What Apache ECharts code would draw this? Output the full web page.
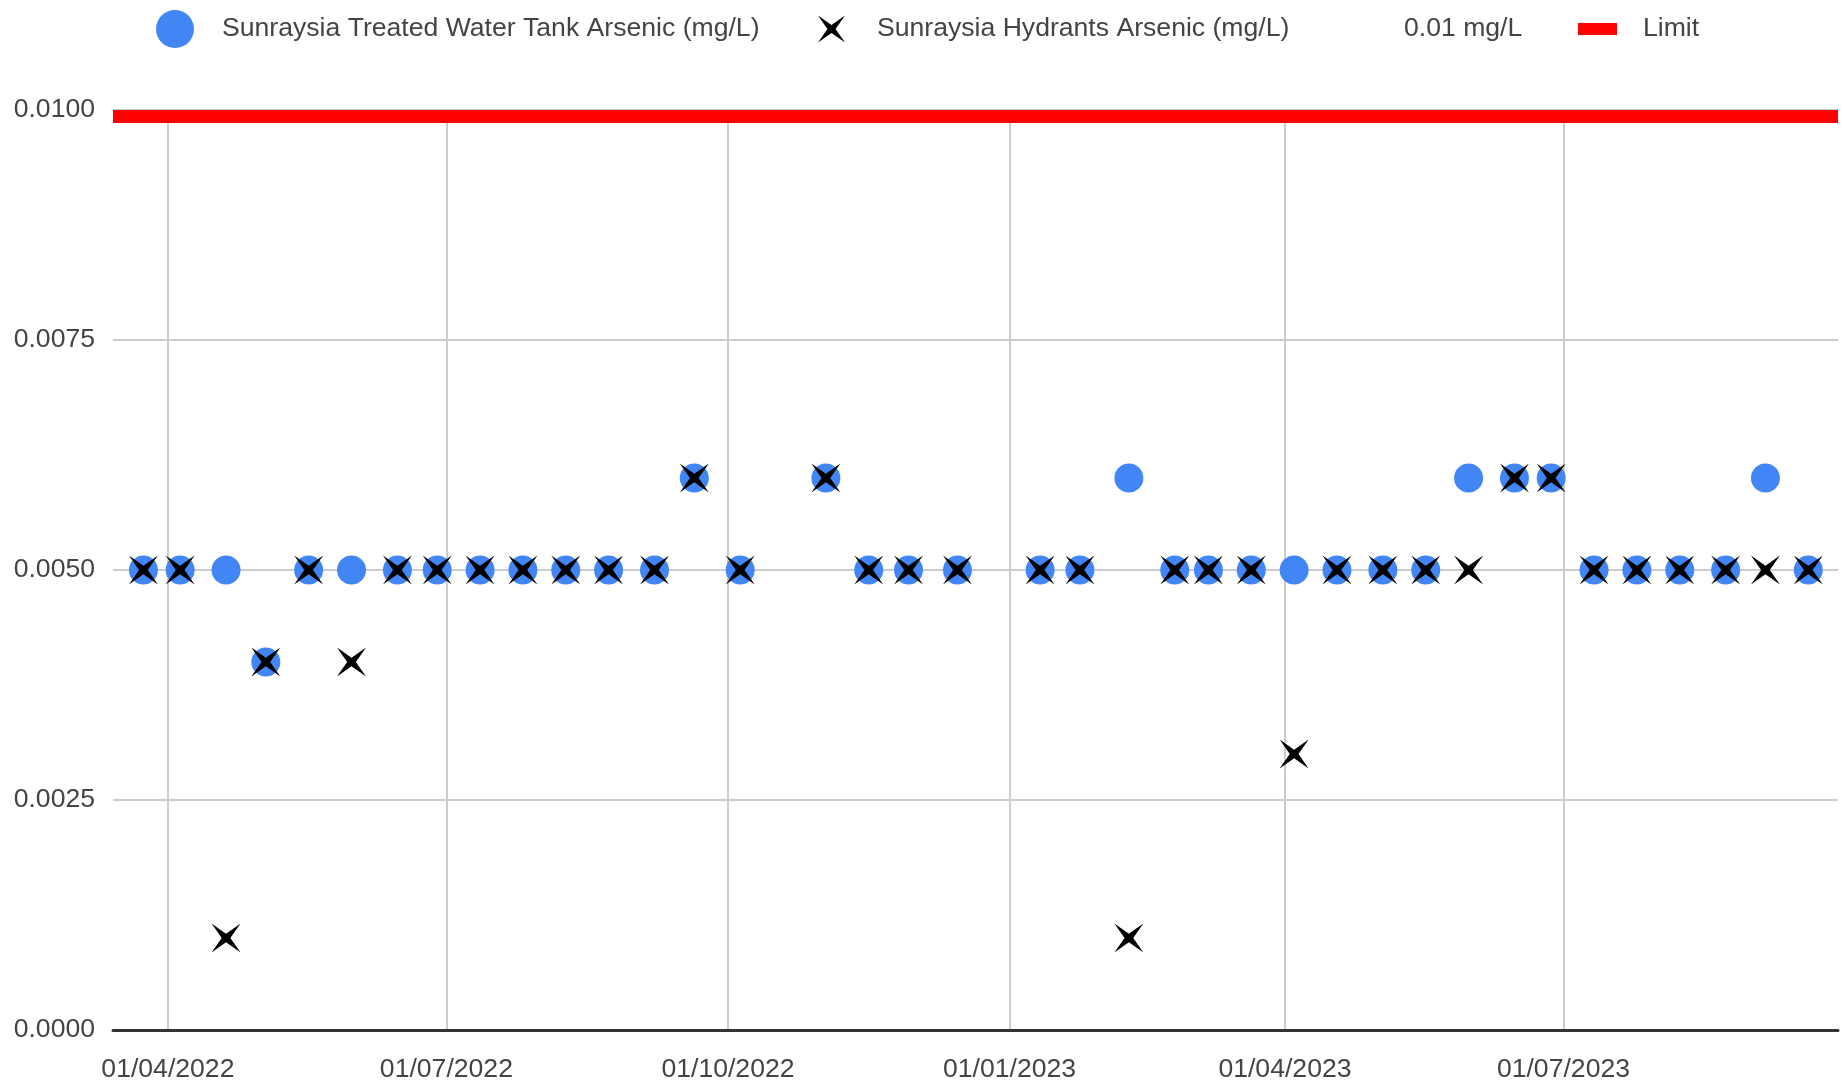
<!DOCTYPE html>
<html>
<head>
<meta charset="utf-8">
<script src="https://cdn.jsdelivr.net/npm/echarts@6/dist/echarts.min.js"></script>
<style>
html,body{margin:0;padding:0;background:#fff;}
#chart{width:1845px;height:1086px;}
</style>
</head>
<body>
<div id="chart"></div>
<script>
// ---- data ----
const sampleDates = ['2022-03-24','2022-04-05','2022-04-20','2022-05-03','2022-05-17','2022-05-31','2022-06-15','2022-06-28','2022-07-12','2022-07-26','2022-08-09','2022-08-23','2022-09-07','2022-09-20','2022-10-05','2022-11-02','2022-11-16','2022-11-29','2022-12-15','2023-01-11','2023-01-24','2023-02-09','2023-02-24','2023-03-07','2023-03-21','2023-04-04','2023-04-18','2023-05-03','2023-05-17','2023-05-31','2023-06-15','2023-06-27','2023-07-11','2023-07-25','2023-08-08','2023-08-23','2023-09-05','2023-09-19'];
const tankArsenic = [0.005,0.005,0.005,0.004,0.005,0.005,0.005,0.005,0.005,0.005,0.005,0.005,0.005,0.006,0.005,0.006,0.005,0.005,0.005,0.005,0.005,0.006,0.005,0.005,0.005,0.005,0.005,0.005,0.005,0.006,0.006,0.006,0.005,0.005,0.005,0.005,0.006,0.005];
const hydrantArsenic = [0.005,0.005,0.001,0.004,0.005,0.004,0.005,0.005,0.005,0.005,0.005,0.005,0.005,0.006,0.005,0.006,0.005,0.005,0.005,0.005,0.005,0.001,0.005,0.005,0.005,0.003,0.005,0.005,0.005,0.005,0.006,0.006,0.005,0.005,0.005,0.005,0.005,0.005];
const xTickDates = ['2022-04-01','2022-07-01','2022-10-01','2023-01-01','2023-04-01','2023-07-01'];
const xMinDate = '2022-03-14T01:30:00';
const xMaxDate = '2023-09-28T17:00:00';
const limitValue = 0.01;
const yMin = 0, yMax = 0.01, yStep = 0.0025;
const seriesNames = ['Sunraysia Treated Water Tank Arsenic (mg/L)','Sunraysia Hydrants Arsenic (mg/L)','0.01 mg/L','Limit'];

// ---- helpers ----
const ts = s => new Date(s.length === 10 ? s + 'T00:00:00' : s).getTime();
const pad = n => (n < 10 ? '0' : '') + n;
const fmtDate = v => { const d = new Date(v); return pad(d.getDate()) + '/' + pad(d.getMonth() + 1) + '/' + d.getFullYear(); };
const XPATH = 'path://M0,0 L50,35 L100,0 L65,50 L100,100 L50,65 L0,100 L35,50 Z';
const FONT = '"Liberation Sans", Arial, sans-serif';
const TXT = '#444';
const FS = 26.6;

const tankData = sampleDates.map((d, i) => [ts(d), tankArsenic[i]]);
const hydrantData = sampleDates.map((d, i) => [ts(d), hydrantArsenic[i]]);
const xTicks = xTickDates.map(ts);

const legendCommon = {
  orient: 'horizontal', padding: 0, selectedMode: false, top: 10,
  textStyle: { fontFamily: FONT, fontSize: FS, color: TXT, lineHeight: 38 }
};
function mkLegend(name, extra, gap) {
  const o = Object.assign({}, legendCommon, extra);
  delete o.item;
  o.data = [Object.assign({ name: name }, extra.item || {})];
  o.textStyle = Object.assign({}, legendCommon.textStyle, { padding: [0, 0, 0, gap] });
  return o;
}

const chart = echarts.init(document.getElementById('chart'), null, { renderer: 'canvas' });
chart.setOption({
  animation: false,
  backgroundColor: '#fff',
  textStyle: { fontFamily: FONT },
  legend: [
    mkLegend(seriesNames[0], { left: 156, itemWidth: 38, itemHeight: 38, item: { icon: 'circle' } }, 23),
    mkLegend(seriesNames[1], { left: 818, itemWidth: 27, itemHeight: 27, item: { icon: XPATH } }, 27),
    mkLegend(seriesNames[2], { left: 1398, itemWidth: 1, itemHeight: 1, item: { icon: 'rect', itemStyle: { opacity: 0 } } }, 0),
    mkLegend(seriesNames[3], { left: 1578, itemWidth: 39, itemHeight: 12, item: { icon: 'rect' } }, 21)
  ],
  grid: { left: 113, right: 7, top: 110, bottom: 56, outerBoundsMode: 'none' },
  xAxis: {
    type: 'value',
    min: ts(xMinDate), max: ts(xMaxDate),
    axisLine: { show: true, onZero: true, lineStyle: { color: '#333', width: 3 } },
    axisTick: { show: false, customValues: xTicks },
    axisLabel: { customValues: xTicks, formatter: v => fmtDate(v), fontSize: FS, color: TXT, fontFamily: FONT, margin: 26, hideOverlap: false },
    splitLine: { show: true, lineStyle: { color: '#cccccc', width: 2 } }
  },
  yAxis: {
    type: 'value', min: yMin, max: yMax, interval: yStep,
    axisLine: { show: false }, axisTick: { show: false },
    axisLabel: { formatter: v => v.toFixed(4), fontSize: FS, color: TXT, fontFamily: FONT, margin: 18, padding: [3, 0, 0, 0] },
    splitLine: { show: true, lineStyle: { color: '#cccccc', width: 2 } }
  },
  series: [
    {
      name: seriesNames[0], type: 'scatter', symbol: 'circle', symbolSize: 29,
      itemStyle: { color: '#4285f4', opacity: 1 }, data: tankData, z: 3
    },
    {
      name: seriesNames[1], type: 'scatter', symbol: XPATH, symbolSize: 29,
      itemStyle: { color: '#000', opacity: 1 }, data: hydrantData, z: 4
    },
    {
      name: seriesNames[2], type: 'line', data: [], itemStyle: { color: 'rgba(0,0,0,0)' }, lineStyle: { opacity: 0 }
    },
    {
      name: seriesNames[3], type: 'custom', clip: true, z: 2,
      itemStyle: { color: '#ff0000' },
      encode: { x: [0, 2], y: 1 },
      data: [[ts(xMinDate), limitValue, ts(xMaxDate)]],
      renderItem: function (params, api) {
        const p1 = api.coord([api.value(0), api.value(1)]);
        const p2 = api.coord([api.value(2), api.value(1)]);
        return { type: 'line', shape: { x1: p1[0], y1: p1[1], x2: p2[0], y2: p2[1] },
                 style: { stroke: '#ff0000', lineWidth: 26 } };
      }
    }
  ]
});
</script>
</body>
</html>
